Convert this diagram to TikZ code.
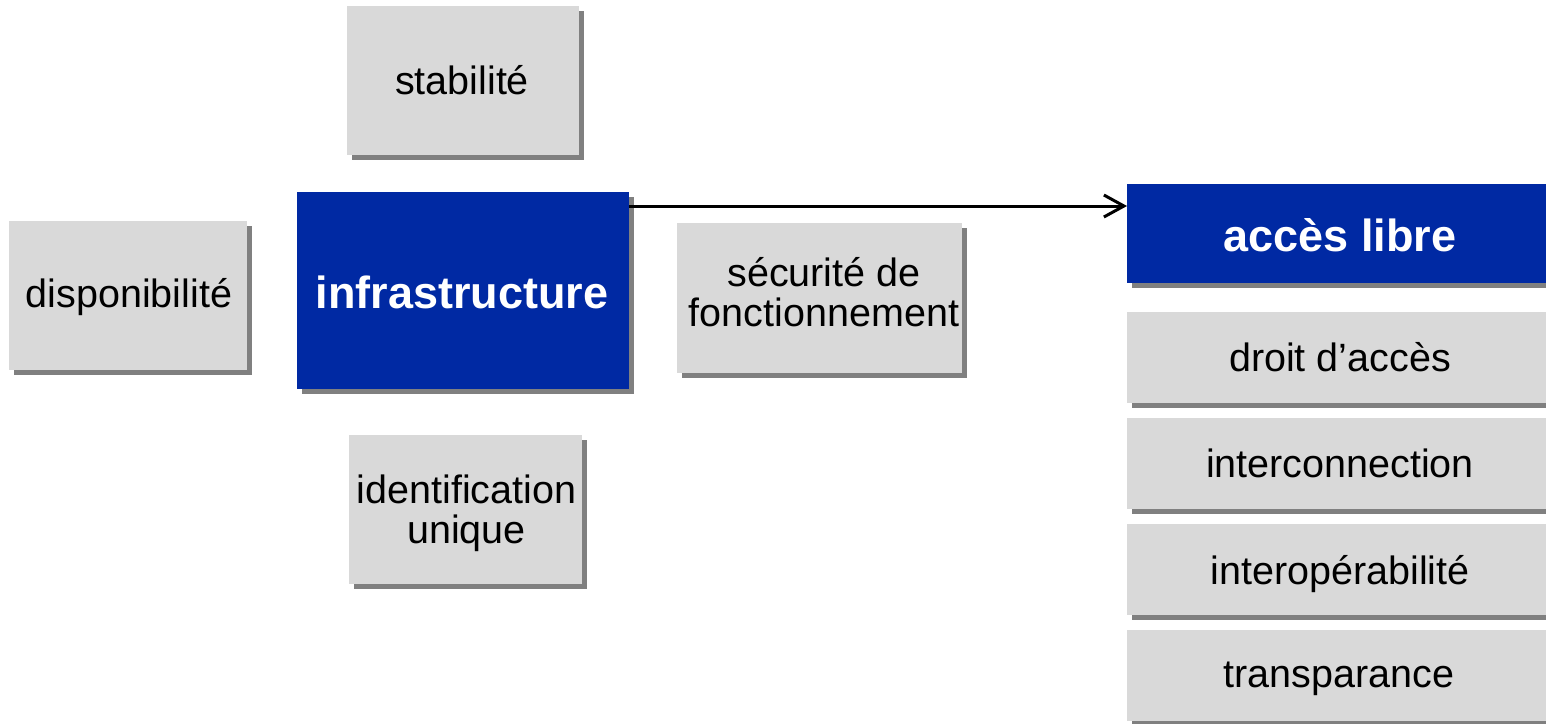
\documentclass[tikz,border=0pt]{standalone}
\usepackage{fontspec}
\setmainfont{Liberation Sans}
\usetikzlibrary{arrows.meta,shadows}
\definecolor{boxgray}{HTML}{D9D9D9}
\definecolor{shadegray}{HTML}{808080}
\definecolor{navy}{HTML}{0029A3}

\begin{document}
\begin{tikzpicture}[x=1pt,y=-1pt,
  panel/.style={rectangle, inner sep=0pt, outer sep=0pt,
    general shadow={fill=shadegray, shadow xshift=5pt, shadow yshift=-5pt}},
  graypanel/.style={panel, fill=boxgray},
  bluepanel/.style={panel, fill=navy},
  plain/.style={font=\fontsize{39.5}{38}\selectfont, inner sep=0pt, anchor=base, text=black},
  strong/.style={font=\fontsize{45}{45}\selectfont\bfseries, inner sep=0pt, anchor=base, text=white},
  link/.style={draw=black, line width=3pt, -{Straight Barb[length=20pt,width=22pt]}}
]
\useasboundingbox (0,0) rectangle (1546,723);
\clip (0,0) rectangle (1546,723);

% left cluster around the infrastructure block
\node[graypanel, minimum width=232pt, minimum height=149pt] (stab) at (463,80.5) {};
\node[plain] (stabtxt) at (462,94) {stabilité};

\node[graypanel, minimum width=238pt, minimum height=149pt] (dispo) at (128,295.5) {};
\node[plain] (dispotxt) at (129,307) {disponibilité};

\node[bluepanel, minimum width=332pt, minimum height=197pt] (infra) at (463,290.5) {};
\node[strong] (infratxt) at (462,308) {infrastructure};

\node[graypanel, minimum width=285pt, minimum height=150pt] (secu) at (819.5,298) {};
\node[plain] (secutxt) at (824,286) {\begin{tabular}[t]{@{}c@{}}sécurité de\\fonctionnement\end{tabular}};

\node[graypanel, minimum width=233pt, minimum height=149pt] (ident) at (465.5,509.5) {};
\node[plain] (identtxt) at (466.5,503) {\begin{tabular}[t]{@{}c@{}}identification\\unique\end{tabular}};

% right column
\node[bluepanel, minimum width=426pt, minimum height=99pt] (acces) at (1340,233.5) {};
\node[strong] (accestxt) at (1340,251) {accès libre};

\node[graypanel, minimum width=426pt, minimum height=91pt] (droit) at (1340,357.5) {};
\node[plain] (droittxt) at (1340,371) {droit d’accès};

\node[graypanel, minimum width=426pt, minimum height=91pt] (inter) at (1340,463) {};
\node[plain] (intertxt) at (1340,477) {interconnection};

\node[graypanel, minimum width=426pt, minimum height=91pt] (interop) at (1340,569.5) {};
\node[plain] (interoptxt) at (1340,584) {interopérabilité};

\node[graypanel, minimum width=426pt, minimum height=91pt] (transp) at (1340,675.5) {};
\node[plain] (transptxt) at (1339,687) {transparance};

% connector
\coordinate (linkstart) at ([yshift=-14pt]infra.north east);
\draw[link] (linkstart) -- (linkstart -| acces.west);
\end{tikzpicture}
\end{document}
